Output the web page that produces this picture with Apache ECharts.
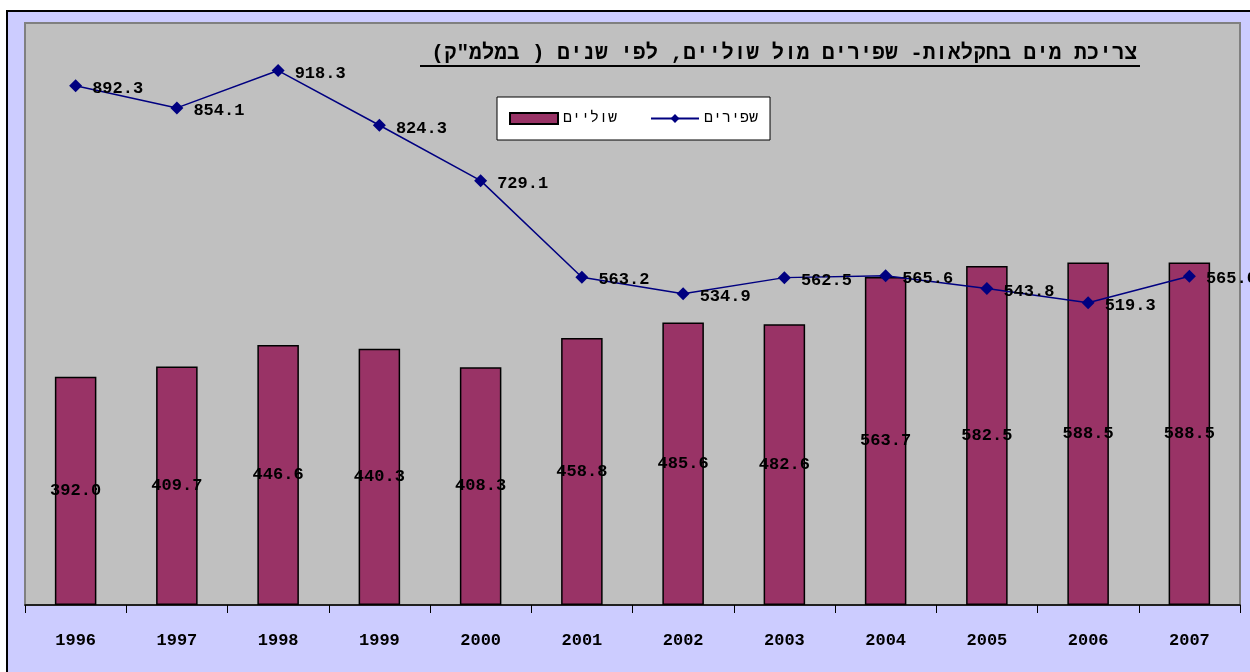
<!DOCTYPE html>
<html>
<head>
<meta charset="utf-8">
<script src="https://cdn.jsdelivr.net/npm/echarts@6/dist/echarts.min.js"></script>
<style>
html,body{margin:0;padding:0;background:#fff;}
#c{width:1250px;height:672px;}
</style>
</head>
<body>
<div id="c"></div>
<script>
const years = ['1996','1997','1998','1999','2000','2001','2002','2003','2004','2005','2006','2007'];
const shulayim = [392.0, 409.7, 446.6, 440.3, 408.3, 458.8, 485.6, 482.6, 563.7, 582.5, 588.5, 588.5];
const shfirim = [892.3, 854.1, 918.3, 824.3, 729.1, 563.2, 534.9, 562.5, 565.6, 543.8, 519.3, 565.0];
const titleText = '\u202Bצריכת מים בחקלאות- שפירים מול שוליים, לפי שנים ( במלמ"ק)\u202C';
const nameBars = 'שוליים';
const nameLine = 'שפירים';

const mono = "'Liberation Mono', 'DejaVu Sans Mono', monospace";
const chart = echarts.init(document.getElementById('c'));
chart.setOption({
  animation: false,
  backgroundColor: '#fff',
  graphic: [
    {type: 'rect', z: -10, shape: {x: 7, y: 11, width: 1300, height: 700},
     style: {fill: '#CCCCFF', stroke: '#000', lineWidth: 2}},
    {type: 'line', z: 10, shape: {x1: 420, y1: 66, x2: 1140, y2: 66},
     style: {stroke: '#000', lineWidth: 2}}
  ],
  title: {
    text: titleText,
    right: 108, top: 38,
    textStyle: {fontFamily: mono, fontWeight: 'bold', fontSize: 21, color: '#000'}
  },
  legend: {
    left: 497, top: 97,
    data: [{name: nameBars, icon: 'rect'}, {name: nameLine}],
    backgroundColor: '#fff', borderColor: '#000', borderWidth: 1,
    padding: [14, 12], itemGap: 33, itemWidth: 48, itemHeight: 11,
    textStyle: {fontFamily: mono, fontSize: 15, color: '#000'}
  },
  grid: {left: 25, top: 23, right: 10, bottom: 67, show: true,
    backgroundColor: '#C0C0C0', borderColor: '#808080', borderWidth: 2},
  xAxis: {
    type: 'category', data: years, boundaryGap: true,
    axisLine: {lineStyle: {color: '#000', width: 1.5}},
    axisTick: {show: true, interval: 0, length: 8, lineStyle: {color: '#000'}},
    axisLabel: {margin: 27, fontFamily: mono, fontWeight: 'bold', fontSize: 17, color: '#000'}
  },
  yAxis: {type: 'value', min: 0, max: 1000, show: false, splitLine: {show: false}},
  series: [
    {
      name: nameBars, type: 'bar', data: shulayim, barWidth: '41%',
      itemStyle: {color: '#993366', borderColor: '#000', borderWidth: 1.5},
      label: {show: true, position: 'inside', formatter: p => p.value.toFixed(1),
        fontFamily: mono, fontWeight: 'bold', fontSize: 17, color: '#000'}
    },
    {
      name: nameLine, type: 'line', data: shfirim, symbol: 'diamond', symbolSize: 13,
      lineStyle: {color: '#000080', width: 1.5},
      itemStyle: {color: '#000080'},
      label: {show: true, position: 'right', distance: 10, offset: [0, 3],
        formatter: p => p.value.toFixed(1),
        fontFamily: mono, fontWeight: 'bold', fontSize: 17, color: '#000'}
    }
  ]
});
</script>
</body>
</html>
